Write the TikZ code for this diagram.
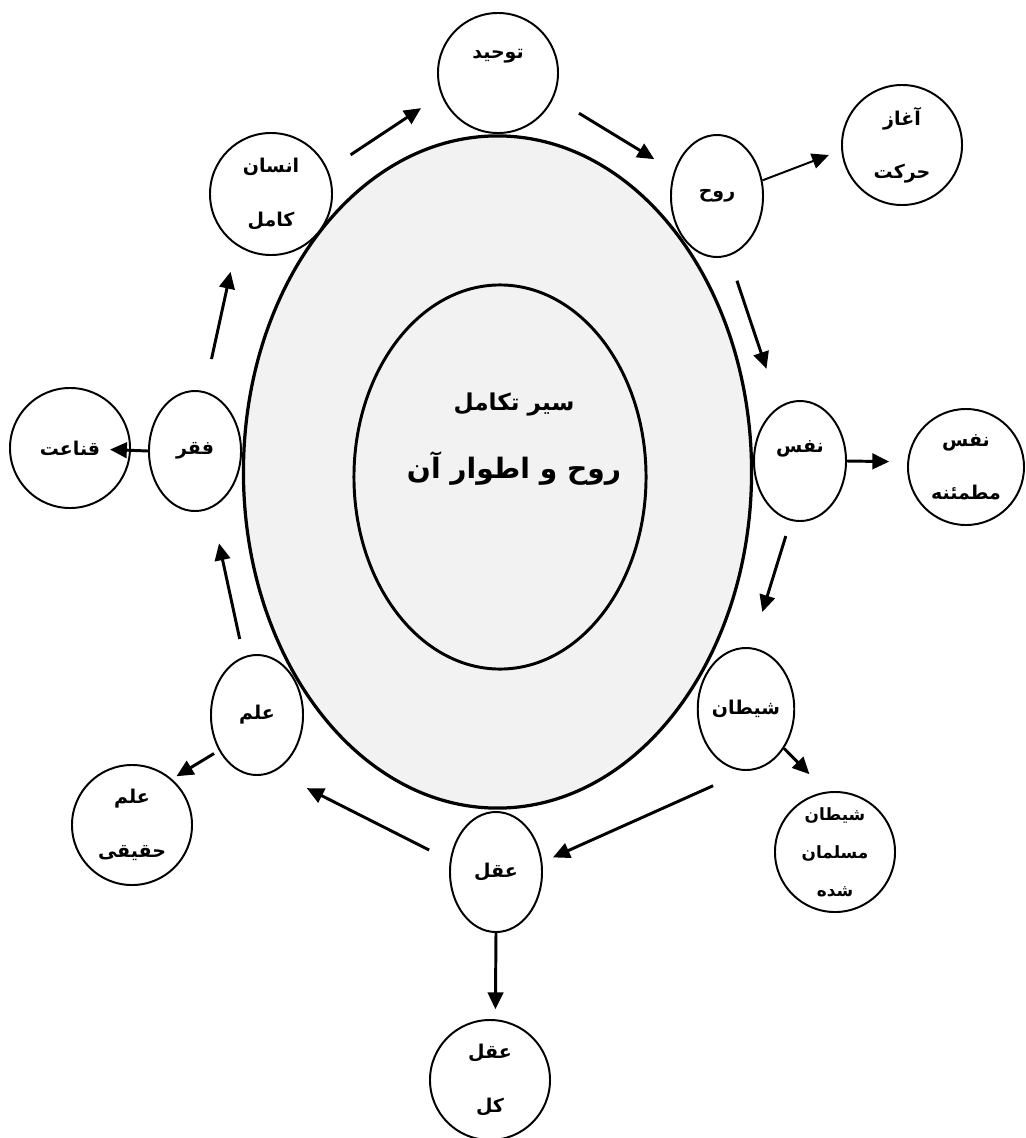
\documentclass[tikz,border=0pt]{standalone}
\usepackage{fontspec}
\usepackage{xcolor}
\usepackage{tikz}
\usetikzlibrary{shapes.geometric,arrows.meta}
\newfontfamily\arabicfont[Script=Arabic]{DejaVu Sans}
\TeXXeTstate=1
\newcommand{\fatext}[1]{\beginR #1\endR}

\begin{document}
\begin{tikzpicture}[x=0.025cm, y=-0.025cm,
  roundnode/.style={circle, draw, line width=1.4pt, fill=white, minimum size=3cm, inner sep=0pt, align=center, font={\arabicfont\bfseries\fontsize{13.5}{38}\selectfont}},
  ovalnode/.style={ellipse, draw, line width=1.4pt, fill=white, minimum width=2.3cm, minimum height=3.05cm, inner sep=0pt, font={\arabicfont\bfseries\fontsize{13.5}{38}\selectfont}},
  flow/.style={-{Triangle[length=12pt,width=11pt]}, line width=2.1pt}]
\useasboundingbox (0,0) rectangle (1026,1138);

% the two rings in the middle
\node[ellipse, draw, line width=2.3pt, fill=black!5, minimum width=12.7cm, minimum height=16.8cm] (ring) at (497.5,472) {};
\node[ellipse, draw, line width=2.1pt, fill=black!5, minimum width=7.3cm, minimum height=9.6cm] (core) at (500,477) {};
\node[font={\arabicfont\bfseries\fontsize{16.5}{20}\selectfont}] (titletop) at (514,405) {\fatext{سیر تکامل}};
\node[font={\arabicfont\bfseries\fontsize{20}{24}\selectfont}] (titlemain) at (514,468) {\fatext{روح و اطوار آن}};

% stages round the ring
\node[roundnode, text depth=27pt] (tawhid) at (498,73) {\fatext{توحید}};
\node[ovalnode] (ruh) at (717,196) {\fatext{روح}};
\node[roundnode] (aghaz) at (902,145) {\fatext{آغاز}\\\fatext{حرکت}};
\node[roundnode, minimum size=3.05cm] (ensan) at (271,194) {\fatext{انسان}\\\fatext{کامل}};
\node[ovalnode, minimum height=3cm] (faqr) at (195,451) {\fatext{فقر}};
\node[roundnode] (qanaat) at (70,448) {\fatext{قناعت}};
\node[ovalnode, minimum height=3cm] (elm) at (257,715) {\fatext{علم}};
\node[roundnode] (elmhaq) at (132,825) {\fatext{علم}\\\fatext{حقیقی}};
\node[ovalnode, minimum height=3cm] (aql) at (496,872) {\fatext{عقل}};
\node[roundnode] (aqlkol) at (490,1080) {\fatext{عقل}\\\fatext{کل}};
\node[ovalnode] (shaitan) at (746,709) {\fatext{شیطان}};
\node[roundnode, font={\arabicfont\bfseries\fontsize{12}{27}\selectfont}] (shmosl) at (835,852) {\fatext{شیطان}\\\fatext{مسلمان}\\\fatext{شده}};
\node[ovalnode, minimum height=3cm, text depth=21pt] (nafs) at (800,461) {\fatext{نفس}};
\node[roundnode, minimum size=2.9cm] (nafsmot) at (966,467) {\fatext{نفس}\\\fatext{مطمئنه}};

% arrows
\draw[flow, shorten <=0.675cm, shorten >=0.6cm] (ensan.23) -- (tawhid.201);
\draw[flow, shorten <=0.74cm, shorten >=0.575cm] (tawhid.336) -- (ruh.150);
\draw[flow, line width=1.4pt, shorten >=0.33cm] (ruh.19) -- (aghaz.185);
\draw[flow, shorten <=0.65cm, shorten >=0.99cm] (ruh.281) -- (nafs.111);
\draw[flow, shorten >=0.45cm] (nafs.east) -- (nafsmot.175);
\draw[flow, shorten <=0.4cm, shorten >=0.925cm] (nafs.261) -- (shaitan.85);
\draw[flow, shorten >=0.61cm] (shaitan.314) -- (shmosl.98);
\draw[flow, shorten <=0.9cm, shorten >=0.29cm] (shaitan.south) -- (aql.12);
\draw[flow, shorten <=0.58cm, shorten >=0.91cm] (aql.166) -- (elm.287);
\draw[flow, shorten >=0.25cm] (aql.south) -- (aqlkol.85);
\draw[flow, shorten <=0.14cm, shorten >=0.13cm] (elm.223) -- (elmhaq.49);
\draw[flow, shorten <=0.45cm, shorten >=0.9cm] (elm.103) -- (faqr.286);
\draw[flow, shorten >=1cm] (faqr.west) -- (qanaat.center);
\draw[flow, shorten <=0.825cm, shorten >=0.675cm] (faqr.81) -- (ensan.236);

\end{tikzpicture}
\end{document}
